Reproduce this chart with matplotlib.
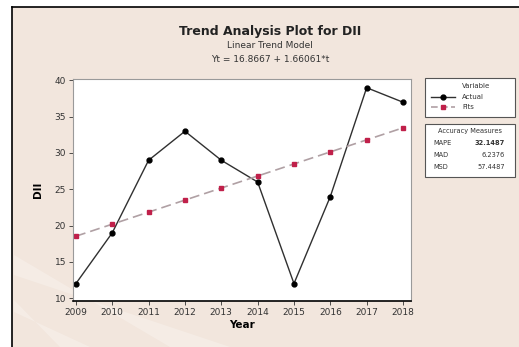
import matplotlib
matplotlib.use("Agg")
import matplotlib.pyplot as plt
from matplotlib.patches import Rectangle, Polygon
from matplotlib.lines import Line2D

years = [2009, 2010, 2011, 2012, 2013, 2014, 2015, 2016, 2017, 2018]
actual = [12, 19, 29, 33, 29, 26, 12, 24, 39, 37]
fits = [18.53, 20.19, 21.85, 23.51, 25.17, 26.83, 28.49, 30.15, 31.81, 33.47]
y_ticks = [10, 15, 20, 25, 30, 35, 40]
accuracy_names = ["MAPE", "MAD", "MSD"]
accuracy_values = ["32.1487", "6.2376", "57.4487"]

W, H = 519, 347
bg = "#f2e6dd"
fig = plt.figure(figsize=(W / 100, H / 100), dpi=100)
fig.patch.set_facecolor("white")


def fx(x):
    return x / W


def fy(y):
    return 1 - y / H


# Page background with black frame on top and left
fig.patches.append(Rectangle((fx(12), 0), 1 - fx(12), fy(7), transform=fig.transFigure,
                             facecolor=bg, edgecolor="none", zorder=-10))
fig.add_artist(Line2D([fx(12), 1], [fy(7), fy(7)], transform=fig.transFigure,
                      color="black", lw=1.2))
fig.add_artist(Line2D([fx(12), fx(12)], [0, fy(7)], transform=fig.transFigure,
                      color="black", lw=1.2))
# faint diagonal light bands in the lower-left corner
for pts in ([(14, 255), (14, 275), (230, 347), (170, 347)],
            [(14, 300), (14, 312), (90, 347), (60, 347)]):
    fig.patches.append(Polygon([(fx(x), fy(y)) for x, y in pts], closed=True,
                               transform=fig.transFigure, facecolor="white",
                               alpha=0.25, edgecolor="none", zorder=-9))

ax = fig.add_axes([fx(73), fy(301), (411 - 73) / W, (301 - 79) / H])
ax.set_facecolor("white")
ax.plot(years, actual, color="#303030", lw=1.0, marker="o", ms=3.5,
        mfc="black", mec="black", label="Actual")
ax.plot(years, fits, color="#b0a0a4", lw=1.2, ls=(0, (6, 3)), marker="s", ms=3.2,
        mfc="#c0204a", mec="#c0204a", label="Fits")

ax.set_xlim(2008.92, 2018.22)
ax.set_ylim(9.6, 40.2)
ax.set_xticks(years)
ax.set_xticklabels([str(y) for y in years])
ax.set_yticks(y_ticks)
ax.tick_params(labelsize=6.5, length=3, width=0.6, colors="#333333", pad=2)
for side in ("top", "right", "left"):
    ax.spines[side].set_color("#9a9a9a")
    ax.spines[side].set_linewidth(0.8)
ax.spines["bottom"].set_color("black")
ax.spines["bottom"].set_linewidth(1.2)

ax.set_xlabel("Year", fontsize=7.5, fontweight="bold", labelpad=2)
ax.set_ylabel("DII", fontsize=7.5, fontweight="bold", labelpad=8)

fig.text(fx(270), fy(32), "Trend Analysis Plot for DII", ha="center", va="center",
         fontsize=9, fontweight="bold", color="#222222")
fig.text(fx(270), fy(46), "Linear Trend Model", ha="center", va="center",
         fontsize=6.5, color="#333333")
fig.text(fx(270), fy(60), "Yt = 16.8667 + 1.66061*t", ha="center", va="center",
         fontsize=6.5, color="#333333")

# Legend box
fig.patches.append(Rectangle((fx(425), fy(117)), fx(515) - fx(425), fy(78) - fy(117),
                             transform=fig.transFigure, facecolor="white",
                             edgecolor="#555555", lw=0.8))
fig.text(fx(462), fy(86), "Variable", fontsize=5, va="center", ha="left", color="#333333")
fig.add_artist(Line2D([fx(431), fx(455)], [fy(97), fy(97)], transform=fig.transFigure,
                      color="#303030", lw=1.0))
fig.add_artist(Line2D([fx(443)], [fy(97)], transform=fig.transFigure, marker="o",
                      ms=3.5, color="black", ls="none"))
fig.text(fx(462), fy(97), "Actual", fontsize=5, va="center", ha="left", color="#333333")
fig.add_artist(Line2D([fx(431), fx(455)], [fy(107), fy(107)], transform=fig.transFigure,
                      color="#b0a0a4", lw=1.2, ls=(0, (4, 2))))
fig.add_artist(Line2D([fx(443)], [fy(107)], transform=fig.transFigure, marker="s",
                      ms=3.2, color="#c0204a", ls="none"))
fig.text(fx(462), fy(107), "Fits", fontsize=5, va="center", ha="left", color="#333333")

# Accuracy measures box
fig.patches.append(Rectangle((fx(425), fy(177)), fx(515) - fx(425), fy(124) - fy(177),
                             transform=fig.transFigure, facecolor="white",
                             edgecolor="#555555", lw=0.8))
fig.text(fx(470), fy(131), "Accuracy Measures", fontsize=4.8, va="center", ha="center",
         color="#333333")
for i, (n, v) in enumerate(zip(accuracy_names, accuracy_values)):
    yy = fy(143 + 12 * i)
    fig.text(fx(433), yy, n, fontsize=4.8, va="center", ha="left", color="#333333")
    fig.text(fx(505), yy, v, fontsize=4.8, va="center", ha="right", color="#333333",
             fontweight="bold" if i == 0 else "normal")

fig.savefig("out.png", dpi=100, facecolor=fig.get_facecolor())
